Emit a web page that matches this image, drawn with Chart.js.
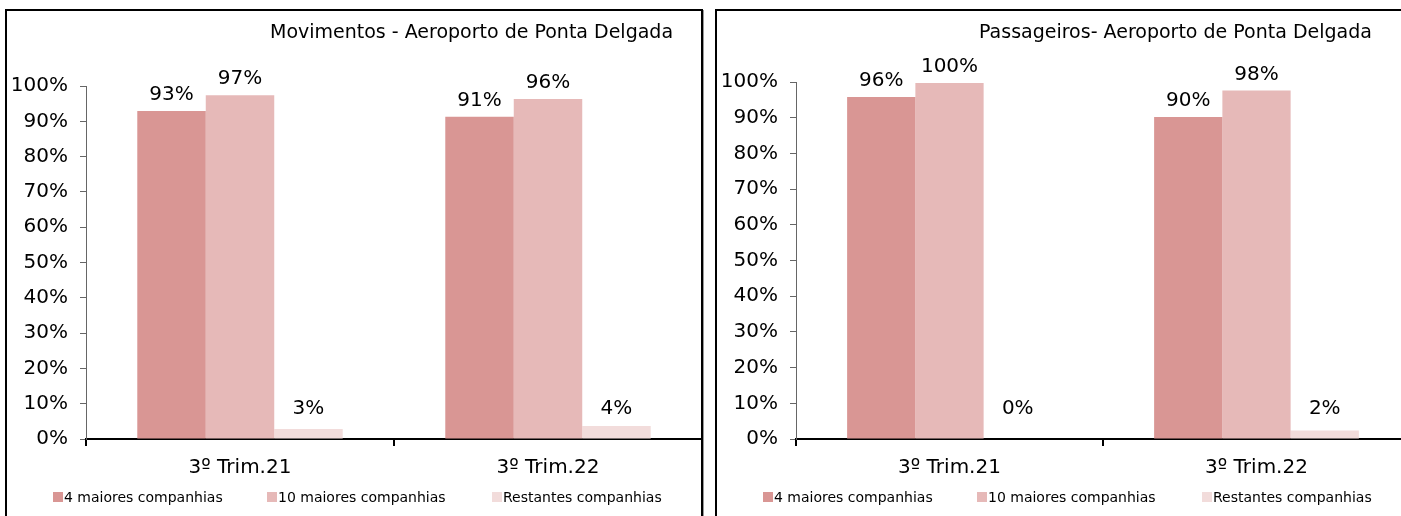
<!DOCTYPE html>
<html>
<head>
<meta charset="utf-8">
<script src="https://cdn.jsdelivr.net/npm/chart.js@4.4.0/dist/chart.umd.min.js"></script>
<style>
  html, body { margin:0; padding:0; width:1401px; height:516px; overflow:hidden; background:#fff; }
  .panel { position:absolute; border:2px solid #000; box-shadow: 1px 1px 0 #999; box-sizing:border-box; }
  canvas { position:absolute; }
</style>
</head>
<body>
<div class="panel" style="left:5px; top:9px; width:698px; height:530px;"></div>
<div class="panel" style="left:715px; top:9px; width:720px; height:530px;"></div>
<div style="position:absolute; left:0; top:0; width:702px; height:516px;"><canvas id="c1"></canvas></div>
<div style="position:absolute; left:716px; top:0; width:700px; height:516px;"><canvas id="c2"></canvas></div>
<script>
const categories = ['3º Trim.21', '3º Trim.22'];
const seriesNames = ['4 maiores companhias', '10 maiores companhias', 'Restantes companhias'];
const seriesColors = ['#D99694', '#E6B9B8', '#F2DCDB'];
const yTicks = [0, 10, 20, 30, 40, 50, 60, 70, 80, 90, 100];

// Movimentos
const movTop4 = [92.9, 91.3];
const movTop10 = [97.4, 96.3];
const movRest = [2.8, 3.7];
// Passageiros
const pasTop4 = [95.8, 90.2];
const pasTop10 = [99.7, 97.6];
const pasRest = [0.0, 2.4];

const FONT = "'DejaVu Sans', sans-serif";

const labelsPlugin = {
  id: 'barLabels',
  afterDatasetsDraw(chart) {
    const ctx = chart.ctx;
    ctx.save();
    ctx.font = '20px ' + FONT;
    ctx.fillStyle = '#000';
    ctx.textAlign = 'center';
    ctx.textBaseline = 'bottom';
    chart.data.datasets.forEach((ds, i) => {
      const meta = chart.getDatasetMeta(i);
      meta.data.forEach((bar, j) => {
        const v = ds.data[j];
        const y = Math.min(bar.y, chart.chartArea.bottom - 14);
        ctx.fillText(Math.round(v) + '%', bar.x, y - 6);
      });
    });
    ctx.restore();
  }
};

const decorPlugin = {
  id: 'decor',
  afterDraw(chart) {
    const ctx = chart.ctx;
    const o = chart.options.plugins.decor;
    const a = chart.chartArea;
    ctx.save();
    // title
    ctx.font = '19px ' + FONT;
    ctx.fillStyle = '#000';
    ctx.textAlign = 'left';
    ctx.textBaseline = 'middle';
    ctx.fillText(o.title, a.left + o.titleDx, 33);
    // legend
    const offs = [-33, 181, 406];
    ctx.font = '14px ' + FONT;
    chart.data.datasets.forEach((ds, i) => {
      const x = a.left + offs[i];
      ctx.fillStyle = ds.backgroundColor;
      ctx.fillRect(x, 492, 10, 10);
      ctx.fillStyle = '#000';
      ctx.fillText(ds.label, x + 11, 498);
    });
    ctx.restore();
  }
};

function makeChart(id, w, h, padLeftAxis, padTop, padRight, data, title, titleDx) {
  const cv = document.getElementById(id);
  cv.style.width = w + 'px';
  cv.style.height = h + 'px';
  return new Chart(cv, {
    type: 'bar',
    data: {
      labels: categories,
      datasets: data.map((d, i) => ({
        label: seriesNames[i],
        data: d,
        backgroundColor: seriesColors[i],
        borderWidth: 0,
        categoryPercentage: 0.667,
        barPercentage: 1.0
      }))
    },
    options: {
      responsive: true,
      maintainAspectRatio: false,
      animation: false,
      devicePixelRatio: 1,
      layout: { padding: { left: 0, top: padTop, right: padRight, bottom: 0 } },
      plugins: {
        legend: { display: false },
        tooltip: { enabled: false },
        decor: { title: title, titleDx: titleDx }
      },
      scales: {
        x: {
          grid: { display: true, drawOnChartArea: false, drawTicks: true, tickLength: 7, color: '#000', lineWidth: 2, offset: true },
          border: { display: true, color: '#000', width: 2 },
          ticks: { color: '#000', font: { family: FONT, size: 20 }, padding: 10, maxRotation: 0 },
          afterFit(scale) { scale.height = 77; }
        },
        y: {
          min: 0, max: 100,
          afterBuildTicks(scale) { scale.ticks = yTicks.map(v => ({ value: v })); },
          grid: { display: true, drawOnChartArea: false, drawTicks: true, tickLength: 6, color: '#666', lineWidth: 1 },
          border: { display: true, color: '#666', width: 1 },
          ticks: { color: '#000', font: { family: FONT, size: 20 }, padding: 12, callback: v => v + '%' },
          afterFit(scale) { scale.width = padLeftAxis; }
        }
      }
    },
    plugins: [labelsPlugin, decorPlugin]
  });
}

makeChart('c1', 702, 516, 86, 86, 0, [movTop4, movTop10, movRest], 'Movimentos - Aeroporto de Ponta Delgada', 184);
makeChart('c2', 700, 516, 80, 82, 6, [pasTop4, pasTop10, pasRest], 'Passageiros- Aeroporto de Ponta Delgada', 183);
</script>
</body>
</html>
